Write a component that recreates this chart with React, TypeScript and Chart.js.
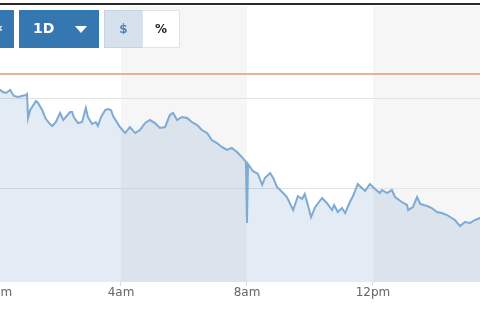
import { useEffect, useRef } from "react";
import { Chart, registerables } from "chart.js";

Chart.register(...registerables);

// Time in minutes since midnight
const minutes = [
  4, 10, 15, 21, 29, 36, 44, 51, 59, 61, 63, 67, 72, 78, 82, 90, 97, 105, 109, 116,
  124, 130, 135, 143, 147, 150, 158, 166, 173, 177, 185, 192, 196, 202, 210, 215, 221, 225, 232, 238,
  248, 257, 267, 276, 286, 295, 305, 314, 324, 333, 339, 347, 356, 366, 375, 385, 394, 404, 413, 423,
  432, 442, 451, 461, 470, 478, 480, 482, 486, 491, 501, 509, 514, 524, 530, 537, 547, 556, 568, 577,
  585, 590, 596, 602, 610, 623, 632, 642, 646, 653, 661, 667, 676, 682, 691, 699, 705, 714, 724, 733,
  737, 747, 756, 762, 775, 785, 787, 796, 804, 810, 823, 832, 842, 851, 861, 867, 876, 886, 895, 905,
  914, 924, 932,
];

const prices = [
  110.99, 110.88, 110.66, 110.55, 110.88, 110.22, 110.11, 110.22, 110.33, 110.44, 107.8, 108.68, 109.12, 109.67, 109.45, 108.68, 107.69, 107.14, 106.92, 107.36,
  108.35, 107.58, 107.91, 108.46, 108.46, 107.91, 107.25, 107.36, 108.9, 107.91, 107.14, 107.36, 106.92, 107.91, 108.68, 108.79, 108.68, 108.02, 107.36, 106.81,
  106.15, 106.81, 106.15, 106.48, 107.25, 107.58, 107.25, 106.7, 106.81, 108.13, 108.35, 107.58, 107.91, 107.8, 107.36, 107.03, 106.48, 106.15, 105.38, 105.05,
  104.62, 104.29, 104.51, 104.07, 103.52, 102.97, 96.26, 102.75, 102.42, 101.98, 101.65, 100.44, 101.21, 101.76, 101.21, 100.22, 99.67, 99.12, 97.69, 99.23,
  98.9, 99.45, 98.24, 96.92, 98.02, 99.01, 98.46, 97.69, 98.24, 97.47, 97.91, 97.36, 98.57, 99.23, 100.55, 100.11, 99.78, 100.55, 100.0, 99.56,
  99.89, 99.56, 99.89, 99.12, 98.57, 98.24, 97.69, 98.02, 99.12, 98.35, 98.13, 97.91, 97.47, 97.36, 97.14, 96.92, 96.59, 95.93, 96.37, 96.26,
  96.59, 96.81, 97.03,
];

const previousClose = 112.64;
const tickMinutes = [0, 240, 480, 720];
const tickLabels = ["12am", "4am", "8am", "12pm"];
const bandRanges = [
  [240, 480],
  [720, 960],
];
const gridValues = [100, 110];
const xRange = [-47.6, 942.9];
const yRange = [89.78, 120.11];

const bandPlugin = {
  id: "timeBands",
  beforeDraw(chart: any) {
    const { ctx, chartArea, scales } = chart;
    const x = scales.x;
    ctx.save();
    ctx.fillStyle = "#f6f6f6";
    for (const [a, b] of bandRanges) {
      const x0 = Math.max(x.getPixelForValue(a), chartArea.left);
      const x1 = Math.min(x.getPixelForValue(b), chartArea.right);
      if (x1 > x0) ctx.fillRect(x0, chartArea.top, x1 - x0, chartArea.bottom - chartArea.top);
    }
    ctx.restore();
  },
};

function PriceChart() {
  const ref = useRef<HTMLCanvasElement | null>(null);
  useEffect(() => {
    if (!ref.current) return;
    const chart = new Chart(ref.current, {
      type: "line",
      data: {
        datasets: [
          {
            data: minutes.map((m, i) => ({ x: m, y: prices[i] })),
            borderColor: "#7eaad6",
            borderWidth: 2,
            backgroundColor: "rgba(90,140,190,0.17)",
            fill: "start",
            pointRadius: 0,
            tension: 0,
          },
          {
            data: [
              { x: xRange[0], y: previousClose },
              { x: xRange[1], y: previousClose },
            ],
            borderColor: "#e09a7a",
            borderWidth: 1.5,
            pointRadius: 0,
            fill: false,
          },
        ],
      },
      options: {
        animation: false,
        responsive: false,
        maintainAspectRatio: false,
        layout: { padding: { top: 6, bottom: 19.6, left: 0, right: 0 } },
        plugins: { legend: { display: false }, tooltip: { enabled: false } },
        scales: {
          x: {
            type: "linear",
            min: xRange[0],
            max: xRange[1],
            afterBuildTicks: (s: any) => {
              s.ticks = tickMinutes.map((v) => ({ value: v }));
            },
            ticks: {
              callback: (v: any) => {
                const i = tickMinutes.indexOf(Number(v));
                return i >= 0 ? tickLabels[i] : "";
              },
              color: "#666666",
              font: { family: "DejaVu Sans", size: 12 },
              padding: 0,
              maxRotation: 0,
              autoSkip: false,
            },
            grid: { drawOnChartArea: false, drawTicks: true, tickLength: 4, color: "#d8dde3" },
            border: { display: false },
          },
          y: {
            min: yRange[0],
            max: yRange[1],
            afterBuildTicks: (s: any) => {
              s.ticks = gridValues.map((v) => ({ value: v }));
            },
            ticks: { display: false },
            grid: { drawTicks: false, color: "#e3e3e3", lineWidth: 1 },
            border: { display: false },
          },
        },
      },
      plugins: [bandPlugin],
    });
    return () => chart.destroy();
  }, []);
  return (
    <canvas
      ref={ref}
      width={520}
      height={320}
      style={{ position: "absolute", left: -30, top: 0, width: 520, height: 320 }}
    />
  );
}

const btnBase: any = {
  position: "absolute",
  top: 10,
  height: 38,
  boxSizing: "border-box",
  fontFamily: "DejaVu Sans",
  fontWeight: "bold",
  display: "flex",
  alignItems: "center",
  justifyContent: "center",
};

export default function App() {
  return (
    <div
      style={{
        position: "fixed",
        left: 0,
        top: 0,
        width: 480,
        height: 320,
        overflow: "hidden",
        background: "#ffffff",
      }}
    >
      <PriceChart />
      <div style={{ position: "absolute", left: 0, top: 3, width: 480, height: 2, background: "#2a2a2a" }} />
      <div style={{ ...btnBase, left: 0, width: 14, background: "#3577b1", color: "#fff", fontSize: 12, overflow: "hidden" }}>
        <span style={{ position: "absolute", left: -5, top: 11 }}>«</span>
      </div>
      <div style={{ ...btnBase, left: 19, width: 80, background: "#3577b1", color: "#fff", fontSize: 14, justifyContent: "flex-start" }}>
        <span style={{ position: "absolute", left: 14, top: 10, lineHeight: "17px" }}>1D</span>
        <span
          style={{
            position: "absolute",
            left: 56,
            top: 16,
            width: 0,
            height: 0,
            borderLeft: "6px solid transparent",
            borderRight: "6px solid transparent",
            borderTop: "7px solid #ffffff",
          }}
        />
      </div>
      <div style={{ ...btnBase, left: 104, width: 39, background: "#d5e1ec", border: "1px solid #c5d4e2", color: "#4f86bd", fontSize: 12 }}>
        $
      </div>
      <div style={{ ...btnBase, left: 142, width: 38, background: "#ffffff", border: "1px solid #dde4ea", color: "#222", fontSize: 12 }}>
        %
      </div>
    </div>
  );
}
